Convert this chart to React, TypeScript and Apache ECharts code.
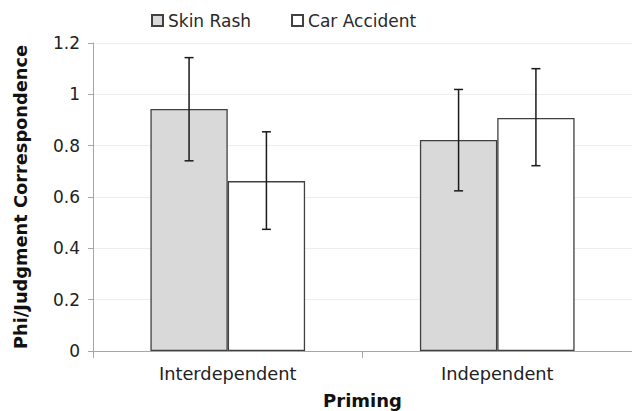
import React, { useEffect, useRef } from "react";
import * as echarts from "echarts";

const categories = ["Interdependent", "Independent"];
const seriesNames = ["Skin Rash", "Car Accident"];
const skinRash = [0.943, 0.822];
const carAccident = [0.662, 0.908];
const skinRashLow = [0.741, 0.624];
const skinRashHigh = [1.143, 1.019];
const carAccidentLow = [0.474, 0.722];
const carAccidentHigh = [0.854, 1.1];
const yTicks = [0, 0.2, 0.4, 0.6, 0.8, 1, 1.2];

const BAR_FRAC = 0.287;
const FONT = "DejaVu Sans";

export default function App() {
  const ref = useRef<HTMLDivElement>(null);
  useEffect(() => {
    document.body.style.margin = "0";
    const chart = echarts.init(ref.current!, null, { renderer: "svg" });
    const errData: number[][] = [];
    categories.forEach((_, i) => {
      errData.push([i, skinRashLow[i], skinRashHigh[i], -1]);
      errData.push([i, carAccidentLow[i], carAccidentHigh[i], 1]);
    });
    chart.setOption({
      animation: false,
      textStyle: { fontFamily: FONT },
      legend: {
        data: seriesNames,
        left: 151,
        top: 12,
        padding: 0,
        icon: "rect",
        itemWidth: 11,
        itemHeight: 11,
        itemGap: 40,
        textStyle: { fontFamily: FONT, fontSize: 17, color: "#2a2a2a" },
      },
      grid: {
        left: 93,
        right: 0,
        top: 43,
        bottom: 60,
        containLabel: false,
        outerBoundsMode: "none",
      },
      xAxis: {
        type: "category",
        data: categories,
        name: "Priming",
        nameLocation: "middle",
        nameGap: 40,
        nameTextStyle: { fontFamily: FONT, fontSize: 18, fontWeight: "bold", color: "#111" },
        axisLine: { lineStyle: { color: "#a6a6a6", width: 1 } },
        axisTick: { show: true, length: 7, lineStyle: { color: "#a6a6a6" } },
        axisLabel: { fontFamily: FONT, fontSize: 17.8, color: "#222", margin: 13 },
      },
      yAxis: {
        type: "value",
        min: 0,
        max: 1.2,
        interval: 0.2,
        name: "Phi/Judgment Correspondence",
        nameLocation: "middle",
        nameGap: 64,
        nameTextStyle: { fontFamily: FONT, fontSize: 17.8, fontWeight: "bold", color: "#111" },
        axisLine: { show: true, lineStyle: { color: "#a6a6a6", width: 1 } },
        axisTick: { show: true, length: 5, lineStyle: { color: "#a6a6a6" } },
        axisLabel: {
          fontFamily: FONT,
          fontSize: 17,
          color: "#222",
          margin: 13,
          formatter: (v: number) => {
            const t = yTicks.find((y) => Math.abs(y - v) < 1e-9);
            return String(t !== undefined ? t : v);
          },
        },
        splitLine: { show: true, lineStyle: { color: "#ededed", width: 1 } },
      },
      series: [
        {
          name: seriesNames[0],
          type: "bar",
          data: skinRash,
          barWidth: BAR_FRAC * 100 + "%",
          barGap: "0%",
          itemStyle: { color: "#d9d9d9", borderColor: "#404040", borderWidth: 1.3 },
        },
        {
          name: seriesNames[1],
          type: "bar",
          data: carAccident,
          barWidth: BAR_FRAC * 100 + "%",
          barGap: "0%",
          itemStyle: { color: "#ffffff", borderColor: "#404040", borderWidth: 1.3 },
        },
        {
          type: "custom",
          data: errData,
          encode: { x: 0, y: [1, 2] },
          z: 10,
          renderItem: (params: any, api: any) => {
            const cat = api.value(0);
            const lo = api.value(1);
            const hi = api.value(2);
            const s = api.value(3);
            const band = api.size([1, 0])[0];
            const off = (s * band * BAR_FRAC) / 2;
            const top = api.coord([cat, hi]);
            const bot = api.coord([cat, lo]);
            const x = top[0] + off;
            const cap = 4.5;
            const st = { stroke: "#1a1a1a", lineWidth: 1.5 };
            return {
              type: "group",
              children: [
                { type: "line", shape: { x1: x, y1: top[1], x2: x, y2: bot[1] }, style: st },
                { type: "line", shape: { x1: x - cap, y1: top[1], x2: x + cap, y2: top[1] }, style: st },
                { type: "line", shape: { x1: x - cap, y1: bot[1], x2: x + cap, y2: bot[1] }, style: st },
              ],
            };
          },
        },
      ],
    });
    return () => chart.dispose();
  }, []);
  return <div ref={ref} style={{ width: 632, height: 411 }} />;
}
